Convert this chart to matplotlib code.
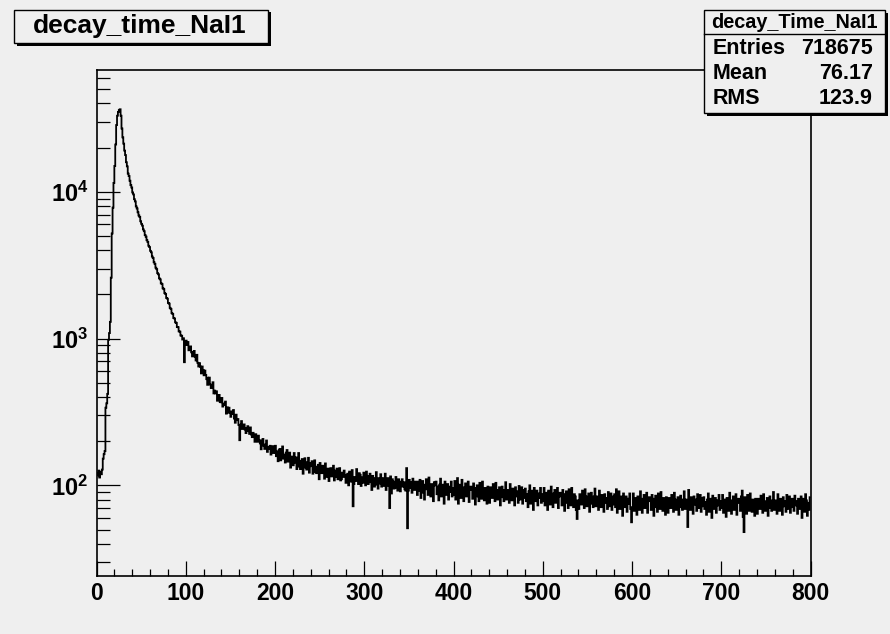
import matplotlib
matplotlib.use("Agg")
import matplotlib.pyplot as plt
import numpy as np
from matplotlib.patches import Rectangle
from matplotlib.lines import Line2D
from matplotlib.ticker import MultipleLocator, LogLocator, FuncFormatter, NullFormatter

# histogram decay_time_NaI1 : 800 bins of width 1 from 0 to 800
x_range = (0, 800)

counts_rise = [  # bins 0-29
    121, 117, 126, 113, 124, 119, 128, 152, 163, 171,
    338, 362, 420, 980, 1090, 1300, 2600, 5200, 7800, 11500,
    15000, 21000, 28500, 33000, 35000, 36000, 36500, 33000, 27000, 23500,
]
counts_fall = [  # bins 30-99
    21300, 19100, 17800, 15900, 14900, 13300, 12800, 11900, 11100, 10700,
    9900, 9600, 8900, 8600, 7950, 7700, 7250, 6900, 6750, 6300,
    6050, 5880, 5540, 5390, 5070, 4950, 4680, 4560, 4290, 4200,
    3960, 3870, 3620, 3540, 3310, 3230, 3040, 2970, 2790, 2740,
    2570, 2530, 2380, 2350, 2200, 2170, 2040, 2010, 1890, 1870,
    1750, 1730, 1620, 1590, 1490, 1470, 1380, 1370, 1290, 1280,
    1200, 1195, 1120, 1115, 1050, 1045, 985, 1005, 690, 955,
]
counts_knee = [  # bins 100-199
    968, 903, 948, 832, 876, 884, 806, 756, 811, 824,
    752, 709, 775, 684, 645, 680, 644, 579, 645, 611,
    562, 605, 564, 529, 484, 541, 542, 486, 460, 482,
    504, 423, 442, 423, 437, 377, 409, 413, 371, 368,
    394, 344, 352, 361, 372, 308, 340, 314, 338, 311,
    293, 319, 306, 326, 285, 267, 303, 278, 283, 258,
    203, 259, 274, 242, 257, 260, 240, 227, 246, 253,
    234, 224, 248, 222, 213, 228, 218, 198, 223, 213,
    198, 218, 203, 193, 176, 202, 207, 186, 177, 190,
    202, 169, 182, 177, 186, 162, 179, 185, 166, 167,
]
counts_tail_a = [  # bins 200-399
    186, 158, 170, 146, 173, 177, 148, 157, 184, 152, 162, 143, 167, 174, 145, 151, 167, 132, 157, 155,
    137, 166, 143, 155, 129, 148, 166, 134, 129, 147, 151, 120, 141, 153, 132, 128, 144, 154, 122, 135,
    142, 146, 120, 130, 148, 123, 121, 134, 138, 110, 142, 126, 121, 136, 129, 111, 141, 119, 114, 130,
    107, 127, 131, 115, 119, 136, 108, 126, 114, 130, 110, 120, 131, 108, 110, 122, 114, 126, 116, 104,
    118, 120, 100, 124, 112, 106, 127, 72, 102, 114, 107, 129, 109, 102, 121, 118, 99, 113, 104, 122,
    111, 100, 124, 116, 102, 105, 120, 110, 93, 116, 112, 98, 101, 123, 109, 95, 112, 103, 119, 98,
    112, 99, 101, 120, 93, 107, 112, 99, 70, 115, 88, 110, 106, 95, 96, 114, 100, 92, 110, 106,
    91, 102, 110, 98, 105, 94, 92, 131, 51, 92, 109, 96, 105, 89, 111, 97, 93, 106, 102, 86,
    106, 92, 109, 82, 99, 107, 89, 80, 101, 110, 94, 86, 113, 90, 84, 102, 95, 78, 105, 100,
    106, 87, 98, 79, 101, 111, 84, 90, 101, 75, 106, 95, 86, 102, 80, 98, 90, 106, 84, 96,
]
counts_tail_b = [  # bins 400-599
    86, 107, 80, 92, 112, 75, 101, 95, 82, 109, 88, 78, 97, 103, 84, 90, 106, 77, 93, 98,
    94, 81, 103, 96, 74, 92, 100, 84, 78, 104, 90, 81, 106, 86, 79, 96, 93, 75, 98, 87,
    76, 97, 91, 82, 102, 88, 78, 104, 93, 80, 84, 97, 73, 90, 98, 83, 78, 93, 105, 80,
    93, 89, 76, 102, 82, 79, 95, 90, 73, 97, 84, 91, 76, 99, 80, 86, 97, 75, 82, 93,
    95, 78, 87, 71, 91, 100, 75, 81, 92, 68, 96, 86, 78, 92, 73, 88, 82, 96, 76, 87,
    78, 96, 73, 84, 89, 68, 92, 87, 74, 98, 80, 71, 88, 93, 76, 81, 96, 70, 84, 89,
    85, 73, 93, 87, 67, 83, 91, 76, 70, 94, 81, 73, 96, 78, 71, 87, 84, 68, 59, 79,
    69, 87, 82, 74, 92, 79, 70, 94, 84, 72, 77, 88, 66, 82, 89, 75, 71, 84, 95, 72,
    84, 80, 68, 92, 74, 71, 86, 81, 66, 87, 76, 82, 69, 90, 72, 78, 88, 68, 74, 84,
    87, 71, 94, 65, 83, 91, 69, 74, 84, 62, 88, 78, 71, 84, 66, 81, 75, 88, 69, 56,
]
counts_tail_c = [  # bins 600-799
    71, 88, 67, 77, 82, 63, 84, 80, 68, 91, 74, 65, 81, 86, 70, 75, 89, 65, 78, 83,
    79, 68, 86, 81, 62, 77, 85, 71, 66, 88, 76, 69, 90, 72, 67, 82, 79, 63, 83, 74,
    65, 82, 77, 70, 86, 74, 66, 89, 80, 68, 73, 83, 63, 78, 85, 71, 68, 80, 91, 69,
    80, 77, 52, 93, 71, 68, 83, 78, 64, 84, 74, 80, 67, 87, 70, 76, 86, 66, 72, 82,
    83, 69, 77, 63, 80, 88, 66, 72, 81, 60, 85, 76, 69, 82, 65, 79, 73, 86, 68, 78,
    70, 86, 65, 75, 80, 61, 82, 78, 67, 89, 72, 64, 79, 84, 68, 73, 87, 63, 76, 81,
    77, 67, 84, 92, 61, 48, 83, 70, 64, 86, 75, 67, 88, 71, 66, 80, 78, 62, 81, 73,
    64, 81, 76, 69, 85, 73, 65, 87, 78, 67, 72, 82, 62, 77, 84, 70, 67, 79, 90, 68,
    79, 75, 64, 87, 70, 67, 81, 77, 63, 83, 72, 78, 66, 86, 69, 75, 84, 65, 71, 81,
    77, 67, 85, 73, 78, 64, 81, 69, 75, 84, 60, 81, 71, 66, 87, 79, 62, 76, 68, 83,
]

hist_title = "decay_time_NaI1"
stats_title = "decay_Time_NaI1"
stats_labels = ["Entries", "Mean", "RMS"]
stats_values = ["718675", "76.17", "123.9"]

plt.rcParams['font.family'] = ['Liberation Sans', 'DejaVu Sans']
plt.rcParams['font.weight'] = 'bold'
plt.rcParams['mathtext.fontset'] = 'custom'
plt.rcParams['mathtext.rm'] = 'Liberation Sans:bold'
plt.rcParams['mathtext.bf'] = 'Liberation Sans:bold'
plt.rcParams['mathtext.it'] = 'Liberation Sans:bold'

W, H = 890, 634
BG = '#efefef'


def fx(x):
    return x / W


def fy(y):
    return 1 - y / H


def pave(x0, y0, x1, y1, shadow=2.5):
    # ROOT style box with a dark shadow on the right/bottom
    fig.patches.append(Rectangle((fx(x0 + shadow), fy(y1 + shadow)), (x1 - x0) / W, (y1 - y0) / H,
                                 transform=fig.transFigure, facecolor='black', edgecolor='none', zorder=5))
    fig.patches.append(Rectangle((fx(x0), fy(y1)), (x1 - x0) / W, (y1 - y0) / H,
                                 transform=fig.transFigure, facecolor=BG, edgecolor='black', lw=1.0, zorder=6))


fig = plt.figure(figsize=(W / 100, H / 100), dpi=100, facecolor=BG)
ax = fig.add_axes([fx(96.5), fy(575.5), (810.5 - 96.5) / W, (575.5 - 70) / H])
ax.set_facecolor(BG)

counts = np.concatenate([counts_rise, counts_fall, counts_knee, counts_tail_a, counts_tail_b, counts_tail_c])
edges = np.linspace(x_range[0], x_range[1], len(counts) + 1)
ax.stairs(counts, edges, baseline=None, color='black', lw=1.3)

ax.set_yscale('log')
ax.set_xlim(*x_range)
ax.set_ylim(24.3, 67600)

ax.xaxis.set_major_locator(MultipleLocator(100))
ax.xaxis.set_minor_locator(MultipleLocator(20))
ax.yaxis.set_major_locator(LogLocator(base=10, numticks=12))
ax.yaxis.set_minor_locator(LogLocator(base=10, subs=np.arange(2, 10), numticks=40))
ax.yaxis.set_major_formatter(FuncFormatter(lambda v, p: r'$\mathbf{10^{%d}}$' % round(np.log10(v))))
ax.yaxis.set_minor_formatter(NullFormatter())

ax.tick_params(axis='x', which='major', direction='in', length=10.8, width=0.9, labelsize=16.5, pad=5)
ax.tick_params(axis='x', which='minor', direction='in', length=5, width=0.9)
ax.tick_params(axis='y', which='major', direction='in', length=16.5, width=0.9, labelsize=17, pad=6)
ax.tick_params(axis='y', which='minor', direction='in', length=9, width=0.9)
ax.tick_params(top=False, right=False, which='both')
for lab in ax.get_xticklabels():
    lab.set_fontweight('bold')
for s in ax.spines.values():
    s.set_linewidth(1.2)

# title pave
pave(14, 10, 268, 43)
fig.text(fx(140), fy(26.5), hist_title, ha='center', va='center', fontsize=19, fontweight='bold', zorder=7)

# stats pave
pave(704, 10, 885, 113)
fig.lines.append(Line2D([fx(704), fx(885)], [fy(34), fy(34)], transform=fig.transFigure, color='black', lw=1.0, zorder=7))
fig.text(fx(794.5), fy(22.5), stats_title, ha='center', va='center', fontsize=14.3, fontweight='bold', zorder=7)
for i, (lab, val) in enumerate(zip(stats_labels, stats_values)):
    yy = fy(49 + 24.5 * i)
    fig.text(fx(713), yy, lab, ha='left', va='center', fontsize=15.5, fontweight='bold', zorder=7)
    fig.text(fx(873), yy, val, ha='right', va='center', fontsize=15.5, fontweight='bold', zorder=7)

fig.savefig('out.png', dpi=100, facecolor=BG)
